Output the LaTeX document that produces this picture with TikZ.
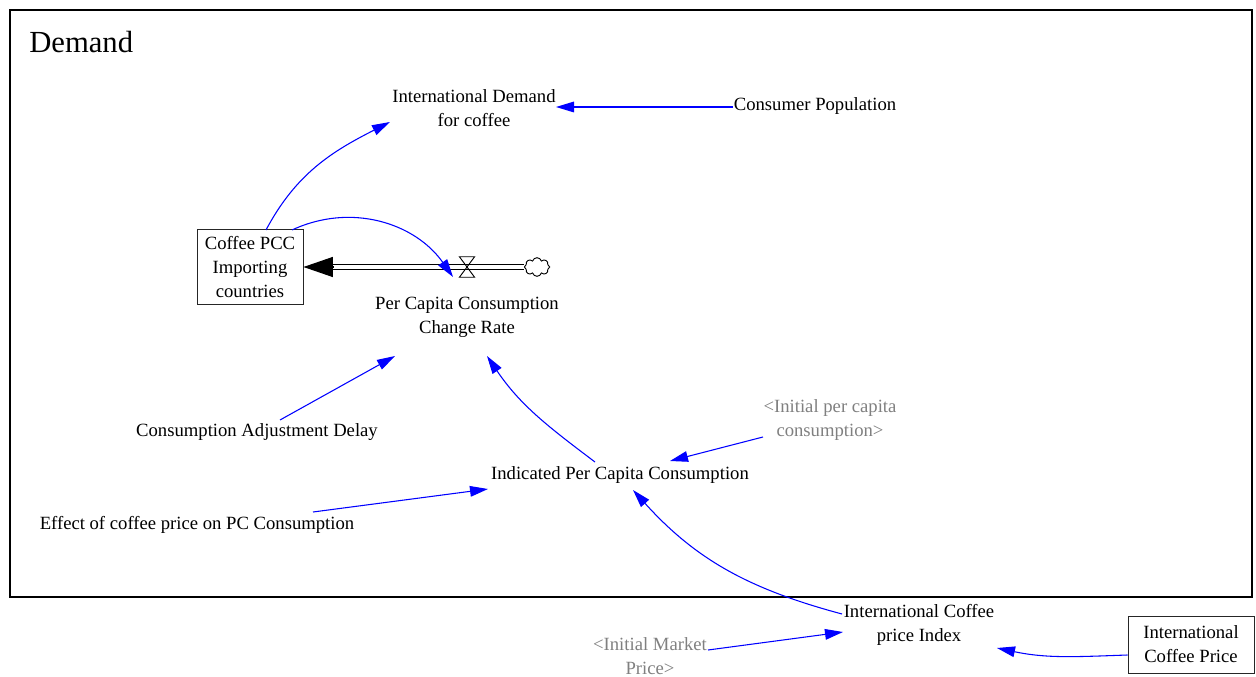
\documentclass[tikz,border=0pt]{standalone}
\usepackage{fontspec}
\setmainfont{Liberation Serif}
\usetikzlibrary{arrows.meta,calc,shapes.symbols}

\begin{document}
\begin{tikzpicture}[
        x=0.75pt,
        y=0.75pt,
        link/.style={draw=blue, line width=0.8pt, -{Triangle[length=13.5pt, width=8pt]}},
        var/.style={align=center, inner sep=2pt, font=\fontsize{14}{18}\selectfont},
        shadowvar/.style={var, text=gray},
        stockbox/.style={var, draw=black!85, line width=0.75pt},
        pipe/.style={double, double distance=3pt, line width=0.8pt},
        flowhead/.style={-{Triangle[length=22pt, width=15pt]}, line width=0.8pt}
    ]
        \useasboundingbox (0,0) rectangle (1256,-677);
        \draw[line width=1.5pt] (10,-10) rectangle (1252,-597);
        \node[anchor=west, inner sep=0, font=\fontsize{23}{27}\selectfont] (title) at (29,-42) {Demand};

        \node[var] (intdem) at (474,-108) {International Demand\\for coffee};
        \node[var] (cons) at (815,-106) {Consumer Population};
        \node[stockbox, minimum width=79.5pt, minimum height=55.5pt] (pcc) at (250,-267) {Coffee PCC\\Importing\\countries};
        \node[minimum width=11pt, minimum height=15pt, inner sep=0] (valve) at (467,-267) {};
        \node[cloud, draw, cloud puffs=8, aspect=1.3, minimum width=19pt, minimum height=14pt, inner sep=0, line width=0.7pt] (src) at (537,-267) {};
        \node[var] (rate) at (467,-317) {Per Capita Consumption\\Change Rate};
        \node[var] (cad) at (257,-432) {Consumption Adjustment Delay};
        \node[var] (ind) at (620,-475) {Indicated Per Capita Consumption};
        \node[shadowvar] (initpc) at (830,-420) {<Initial per capita\\consumption>};
        \node[var] (effect) at (197,-525) {Effect of coffee price on PC Consumption};
        \node[var] (index) at (919,-625) {International Coffee\\price Index};
        \node[shadowvar] (initmp) at (650,-656) {<Initial Market\\Price>};
        \node[stockbox, minimum width=94.5pt, minimum height=42.75pt] (icp) at (1191,-644.5) {International\\Coffee Price};

        % flow into the stock
        \draw[pipe, shorten >=21pt] (src.west) -- (pcc.east);
        \draw[flowhead] ($(pcc.east)+(29,0)$) -- (pcc.east);
        \draw[line width=0.7pt] (valve.north west) -- (valve.north east) -- (valve.south west) -- (valve.south east) -- cycle;

        \draw[link] ($(cons)+(-82,-1)$) -- ($(intdem)+(82,1)$);
        \draw[link] ($(pcc)+(16,37)$) to[out=62, in=207] ($(intdem)+(-84,-14)$);
        \draw[link] ($(pcc)+(42,37)$) to[out=25, in=125] ($(valve)+(-14,-10)$);
        \draw[link] ($(cad)+(23,12)$) -- ($(rate)+(-72,-39)$);
        \draw[link] ($(ind)+(-25,13)$) to[out=143, in=-56] ($(rate)+(20,-39)$);
        \draw[link] ($(initpc)+(-67,-17)$) -- ($(ind)+(50,14)$);
        \draw[link] ($(effect)+(116,13)$) -- ($(ind)+(-132,-14)$);
        \draw[link] ($(index)+(-77,11)$) to[out=165, in=-48] ($(ind)+(13,-15)$);
        \draw[link] ($(initmp)+(58,6)$) -- ($(index)+(-76,-7)$);
        \draw[link] ($(icp.west)+(0,-10.5)$) to[out=182, in=-12] ($(index)+(78,-23)$);
    \end{tikzpicture}
\end{document}
